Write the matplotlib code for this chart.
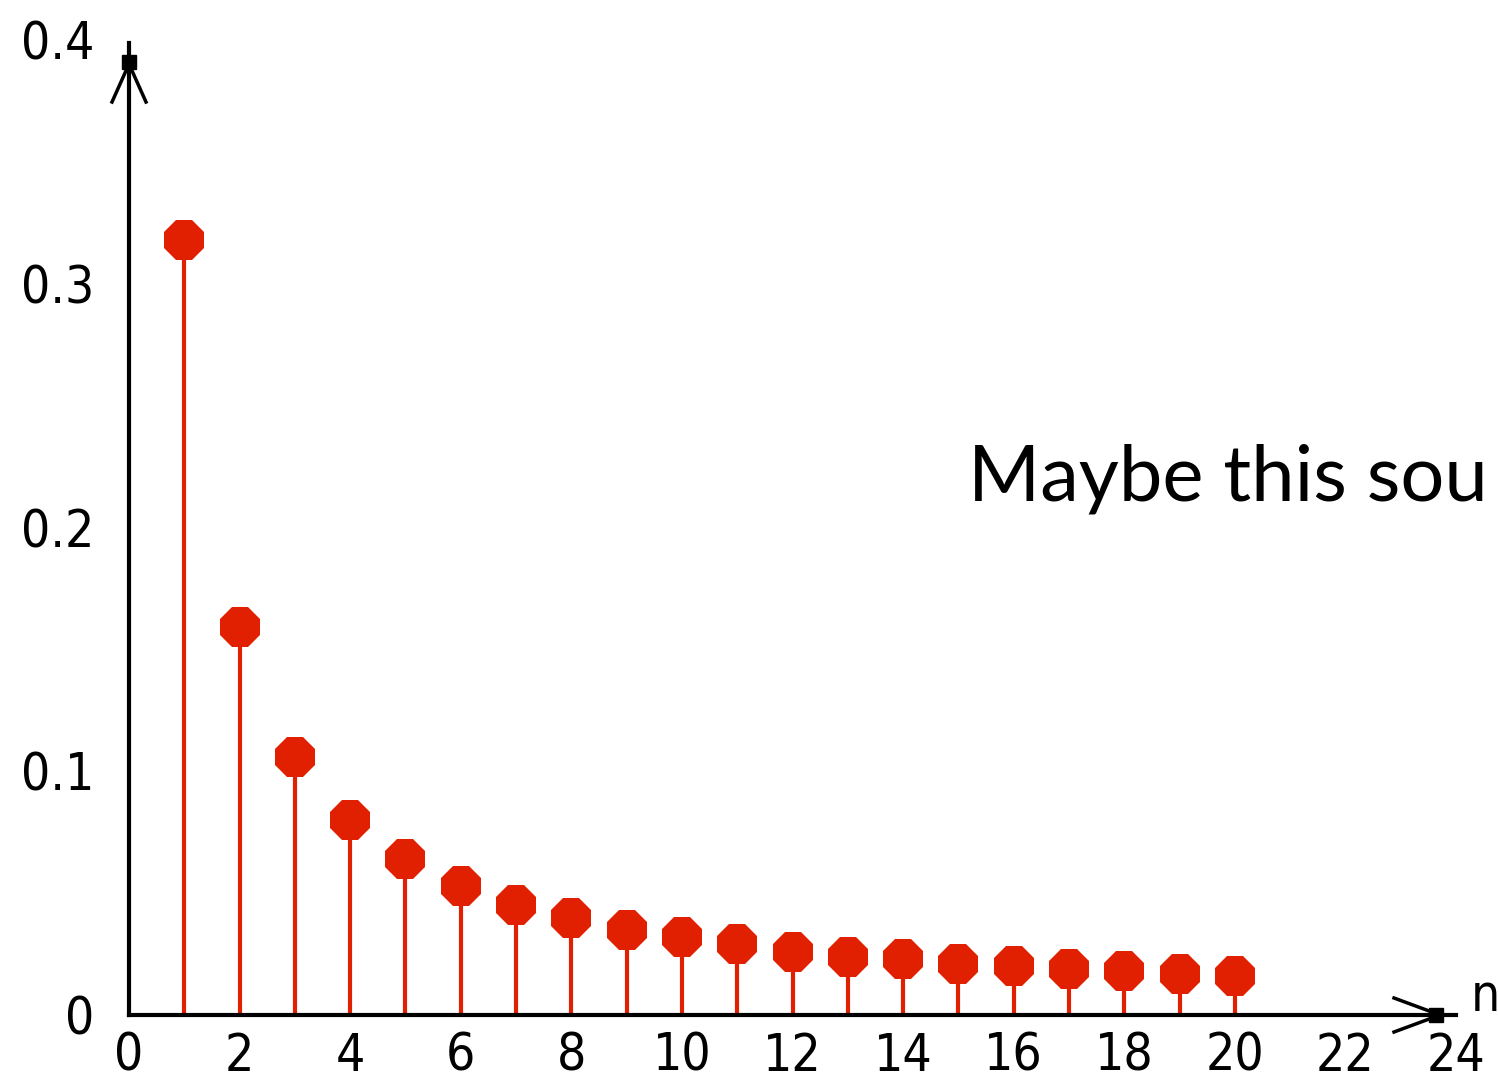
"""Stem plot of a decaying sequence, n = 1..20."""

import matplotlib.pyplot as plt

n_values = list(range(1, 21))
amplitudes = [0.318, 0.159, 0.106, 0.080, 0.064, 0.053, 0.045, 0.040, 0.035,
              0.032, 0.029, 0.026, 0.024, 0.023, 0.021, 0.020, 0.019, 0.018,
              0.017, 0.016]
x_ticks = list(range(0, 25, 2))
y_ticks = [0, 0.1, 0.2, 0.3, 0.4]
y_tick_labels = ["0", "0.1", "0.2", "0.3", "0.4"]
caption = "Maybe this sou"

RED = "#e02000"
TICK_FONT = dict(family=["DejaVu Sans"], stretch="condensed", fontsize=37)

W, H = 1498, 1082
fig = plt.figure(figsize=(W / 100, H / 100), dpi=100)

# axes box placed so that data (0, 0) sits at pixel (129, 1015)
x0_px, y0_px, x1_px, y1_px = 129, 1015, 1456, 40
ax = fig.add_axes([x0_px / W, (H - y0_px) / H,
                   (x1_px - x0_px) / W, (y0_px - y1_px) / H])
ax.set_xlim(0, 24)
ax.set_ylim(0, 0.4)
for s in ax.spines.values():
    s.set_visible(False)

# stems and heads
ax.vlines(n_values, 0, amplitudes, colors=RED, linewidth=3, zorder=2)
ax.plot(n_values, amplitudes, linestyle="none", marker="8", markersize=31,
        color=RED, markeredgewidth=0, zorder=3, clip_on=False)

# axes with open arrowheads
px_x = 24 / (x1_px - x0_px)        # data units per pixel
px_y = 0.4 / (y0_px - y1_px)
ax.plot([0, 0], [0, 0.4 - 3 * px_y], color="black", lw=3, clip_on=False, zorder=4)
ax.plot([0, 24], [0, 0], color="black", lw=3, clip_on=False, zorder=4)
ax.plot([-17 * px_x, 0, 17 * px_x],
        [0.4 - 62 * px_y, 0.4 - 24 * px_y, 0.4 - 62 * px_y],
        color="black", lw=2.5, clip_on=False, zorder=4)
ax.plot([24 - 62 * px_x, 24 - 16 * px_x, 24 - 62 * px_x],
        [17 * px_y, 0, -17 * px_y],
        color="black", lw=2.5, clip_on=False, zorder=4)
ax.plot([0], [0.4 - 22 * px_y], marker="s", ms=10, color="black",
        clip_on=False, zorder=5)
ax.plot([24 - 20 * px_x], [0], marker="s", ms=10, color="black",
        clip_on=False, zorder=5)

ax.set_xticks(x_ticks)
ax.set_xticklabels([str(t) for t in x_ticks], **TICK_FONT)
ax.set_yticks(y_ticks)
ax.set_yticklabels(y_tick_labels, **TICK_FONT)
ax.tick_params(axis="x", length=0, pad=12)
ax.tick_params(axis="y", length=0, pad=25)
for lbl in ax.get_yticklabels():
    lbl.set_verticalalignment("center_baseline")

ax.text(24 + 29 * px_x, 4 * px_y, "n", ha="center", va="baseline",
        clip_on=False, **TICK_FONT)

fig.text(968 / W, 1 - 500 / H, caption, fontsize=56, family="Lato",
         ha="left", va="baseline")

fig.savefig("out.png", dpi=100)
